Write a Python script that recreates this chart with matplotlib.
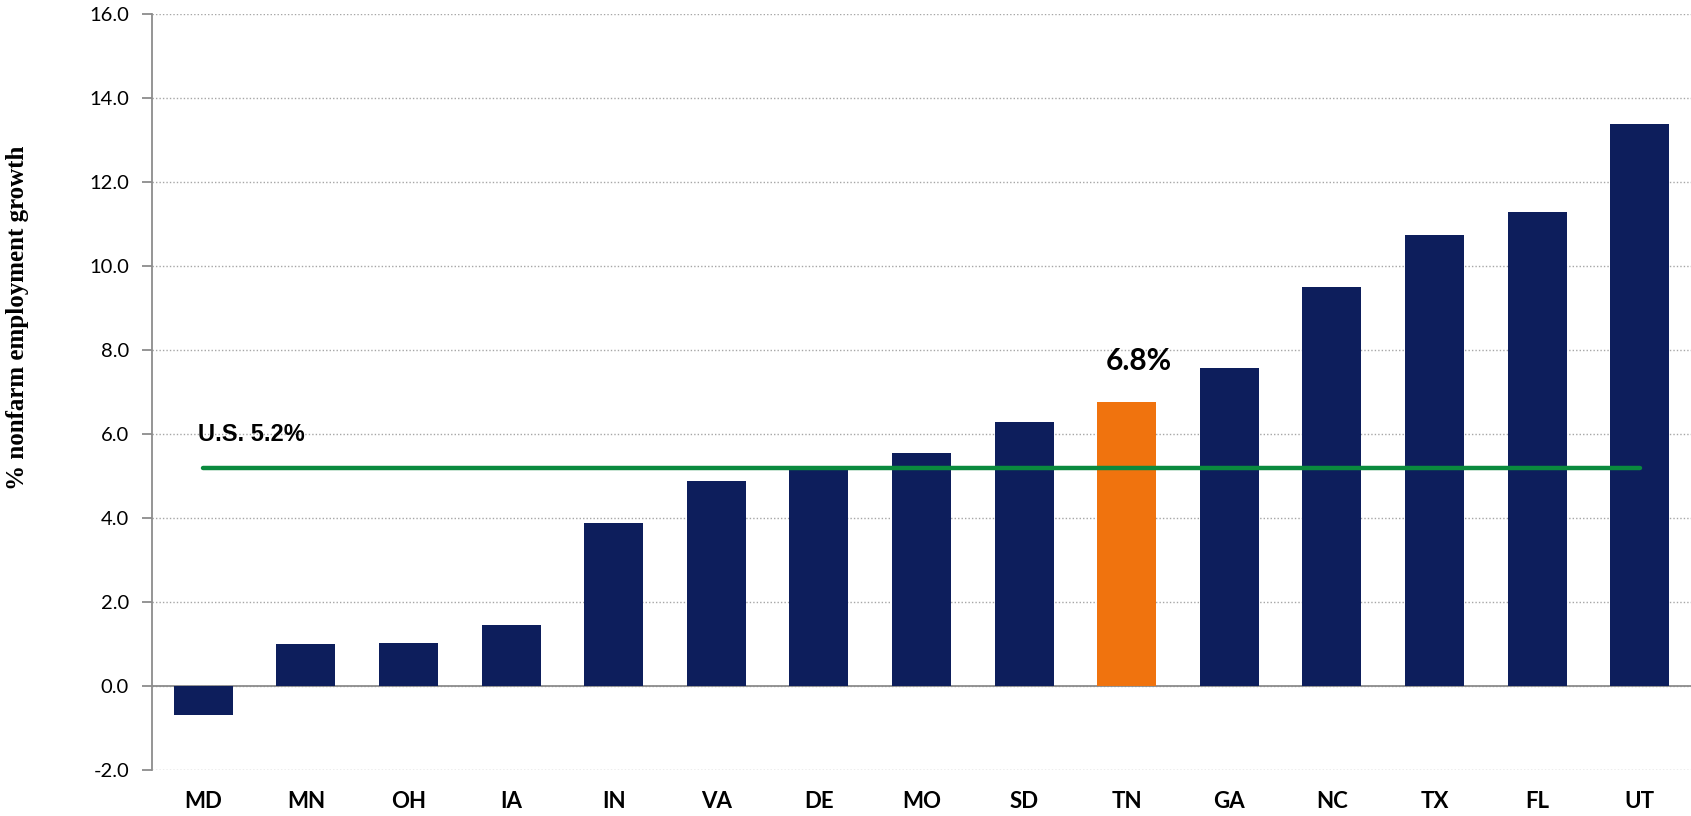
import matplotlib
matplotlib.use('Agg')
import matplotlib.pyplot as plt

# Data
states = ['MD', 'MN', 'OH', 'IA', 'IN', 'VA', 'DE', 'MO', 'SD', 'TN', 'GA', 'NC', 'TX', 'FL', 'UT']
growth = [-0.68, 1.0, 1.03, 1.45, 3.88, 4.89, 5.2, 5.54, 6.28, 6.77, 7.57, 9.49, 10.75, 11.29, 13.38]
us_growth = 5.2
highlight = 'TN'
yticks = [-2, 0, 2, 4, 6, 8, 10, 12, 14, 16]

NAVY = '#0D1E5C'
ORANGE = '#F0730E'
GREEN = '#0A8A3E'
GREY = '#8C8C8C'

fig = plt.figure(figsize=(16.91, 8.16), dpi=100)
ax = fig.add_axes([0.0899, 0.0564, 0.9101, 0.9264])

colors = [ORANGE if s == highlight else NAVY for s in states]
x = list(range(len(states)))
ax.bar(x, growth, width=0.575, color=colors, zorder=3)

# U.S. average line
ax.plot([x[0], x[-1]], [us_growth, us_growth], color=GREEN, linewidth=3.2,
        solid_capstyle='round', zorder=4)
ax.text(x[0] - 0.05, 6.0, 'U.S. 5.2%', fontsize=17, fontweight='bold',
        family='Liberation Sans', ha='left', va='center', zorder=5)

# Highlight label
i = states.index(highlight)
ax.text(x[i] + 0.12, 7.75, '6.8%', fontsize=21.5, fontweight='bold',
        family='Lato', ha='center', va='center', zorder=5)

ax.set_xlim(-0.5, len(states) - 0.5)
ax.set_ylim(-2, 16)
ax.set_yticks(yticks)
ax.set_yticklabels([f'{v:.1f}' for v in yticks], family='Lato', fontsize=14.5)
ax.set_xticks(x)
ax.set_xticklabels(states, family='Lato', fontweight='bold', fontsize=16)

ax.yaxis.grid(True, linestyle=(0, (1, 1.5)), color='#A6A6A6', linewidth=1.0, zorder=0)
ax.axhline(0, color=GREY, linewidth=1.3, zorder=2)

for side in ['top', 'right', 'bottom']:
    ax.spines[side].set_visible(False)
ax.spines['left'].set_color(GREY)
ax.spines['left'].set_linewidth(1.3)
ax.tick_params(axis='y', length=7, width=1.3, color=GREY, pad=9.5)
ax.tick_params(axis='x', length=0, pad=15)

fig.text(0.0103, 0.61, '% nonfarm employment growth', rotation=90, family='Liberation Serif',
         fontweight='bold', fontsize=18, ha='center', va='center')

fig.savefig('out.png', dpi=100)
